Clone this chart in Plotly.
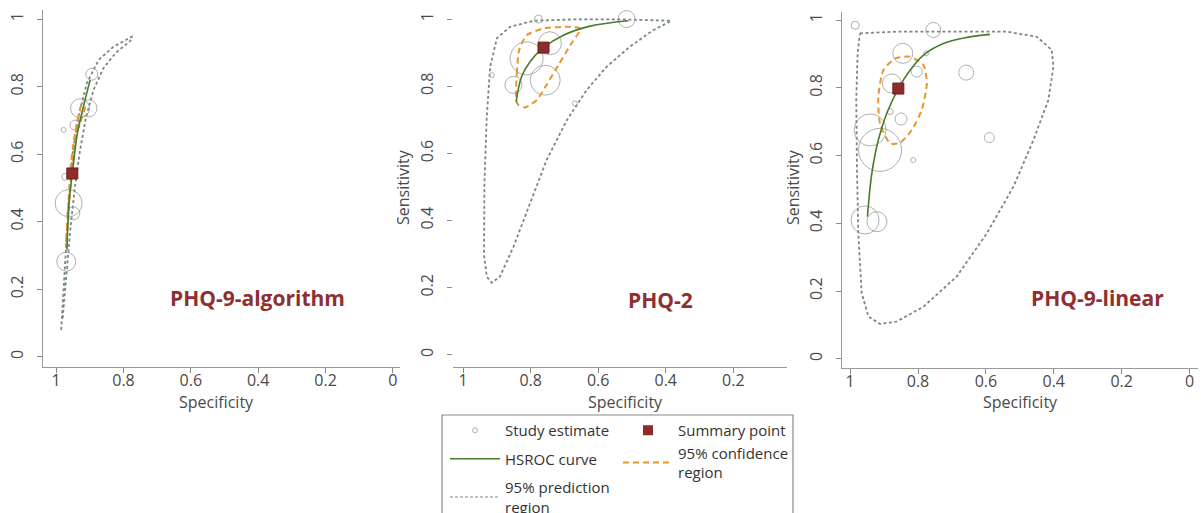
import plotly.graph_objects as go

# ---------------- DATA ----------------
panel_names = ["PHQ-9-algorithm", "PHQ-2", "PHQ-9-linear"]

# PHQ-9-algorithm
alg_study_spec = [0.894, 0.929, 0.904, 0.944, 0.978, 0.973, 0.963, 0.949, 0.970]
alg_study_sens = [0.837, 0.736, 0.736, 0.686, 0.672, 0.533, 0.455, 0.425, 0.282]
alg_study_size = [12, 19, 17, 10, 5, 7, 27, 13, 19]
alg_summary = (0.952, 0.543)
alg_hsroc_spec = [0.968, 0.961, 0.952, 0.937, 0.919, 0.899]
alg_hsroc_sens = [0.317, 0.464, 0.543, 0.662, 0.741, 0.820]
alg_conf_spec = [0.971, 0.963, 0.957, 0.944, 0.924, 0.914, 0.939, 0.954, 0.964, 0.971]
alg_conf_sens = [0.326, 0.465, 0.563, 0.662, 0.746, 0.741, 0.662, 0.545, 0.420, 0.326]
alg_pred_spec = [0.985, 0.976, 0.968, 0.960, 0.951, 0.934, 0.909, 0.874, 0.830, 0.775,
                 0.775, 0.825, 0.860, 0.889, 0.911, 0.929, 0.944, 0.957, 0.970, 0.981]
alg_pred_sens = [0.080, 0.248, 0.366, 0.484, 0.603, 0.711, 0.810, 0.879, 0.918, 0.948,
                 0.940, 0.898, 0.854, 0.790, 0.711, 0.612, 0.504, 0.386, 0.248, 0.110]

# PHQ-2
p2_study_spec = [0.777, 0.516, 0.915, 0.669, 0.812, 0.743, 0.851, 0.757]
p2_study_sens = [1.000, 1.000, 0.833, 0.749, 0.883, 0.928, 0.804, 0.818]
p2_study_size = [8, 17, 5, 5, 33, 23, 17, 30]
p2_summary = (0.762, 0.915)
p2_hsroc_spec = [0.843, 0.827, 0.802, 0.762, 0.703, 0.624, 0.511]
p2_hsroc_sens = [0.754, 0.828, 0.873, 0.915, 0.952, 0.979, 0.995]
p2_conf_spec = [0.843, 0.841, 0.834, 0.812, 0.762, 0.693, 0.652, 0.679, 0.718, 0.753,
                0.782, 0.817, 0.836, 0.843]
p2_conf_sens = [0.759, 0.838, 0.908, 0.952, 0.972, 0.977, 0.972, 0.928, 0.863, 0.804,
                0.759, 0.737, 0.744, 0.759]
p2_pred_spec = [0.388, 0.526, 0.674, 0.792, 0.861, 0.900, 0.920, 0.930, 0.937, 0.938,
                0.930, 0.915, 0.891, 0.851, 0.802, 0.753, 0.693, 0.634, 0.575, 0.506,
                0.437, 0.388]
p2_pred_sens = [0.995, 0.999, 0.999, 0.995, 0.977, 0.943, 0.858, 0.709, 0.511, 0.297,
                0.233, 0.215, 0.233, 0.322, 0.451, 0.580, 0.699, 0.789, 0.858, 0.918,
                0.967, 0.992]

# PHQ-9-linear
lin_study_spec = [0.985, 0.755, 0.845, 0.776, 0.804, 0.658, 0.877, 0.882, 0.850,
                  0.590, 0.941, 0.912, 0.814, 0.956, 0.921]
lin_study_sens = [0.985, 0.971, 0.902, 0.902, 0.848, 0.845, 0.813, 0.730, 0.708,
                  0.653, 0.676, 0.617, 0.587, 0.410, 0.405]
lin_study_size = [8, 15, 20, 5, 11, 15, 19, 6, 12, 10, 32, 43, 5, 28, 20]
lin_summary = (0.858, 0.798)
lin_hsroc_spec = [0.949, 0.936, 0.917, 0.892, 0.858, 0.823, 0.784, 0.725, 0.656, 0.588]
lin_hsroc_sens = [0.420, 0.548, 0.646, 0.725, 0.798, 0.853, 0.897, 0.931, 0.949, 0.958]
lin_conf_spec = [0.882, 0.912, 0.917, 0.902, 0.867, 0.823, 0.784, 0.774, 0.789, 0.818,
                 0.853, 0.882]
lin_conf_sens = [0.636, 0.695, 0.774, 0.853, 0.887, 0.892, 0.867, 0.813, 0.735, 0.676,
                 0.638, 0.636]
lin_pred_spec = [0.971, 0.863, 0.715, 0.539, 0.450, 0.406, 0.401, 0.416, 0.460, 0.519,
                 0.597, 0.686, 0.784, 0.863, 0.912, 0.946, 0.966, 0.976, 0.980, 0.982,
                 0.978, 0.971]
lin_pred_sens = [0.961, 0.966, 0.966, 0.966, 0.951, 0.912, 0.862, 0.764, 0.646, 0.508,
                 0.371, 0.243, 0.154, 0.110, 0.103, 0.125, 0.194, 0.371, 0.567, 0.764,
                 0.902, 0.961]

tick_vals = [0, 0.2, 0.4, 0.6, 0.8, 1]
tick_text = ["0", "0.2", "0.4", "0.6", "0.8", "1"]

# ---------------- STYLE ----------------
W, H = 1201, 513
CIRCLE = "#8f8f8f"
GREEN = "#4a7a2c"
ORANGE = "#e8962e"
PRED = "#7a8888"
RED = "#8e2b2b"
LABEL_RED = "#8f2f31"
FONT = "Open Sans"

fig = go.Figure()

panels = [
    (alg_study_spec, alg_study_sens, alg_study_size, alg_summary, alg_hsroc_spec, alg_hsroc_sens,
     alg_conf_spec, alg_conf_sens, alg_pred_spec, alg_pred_sens),
    (p2_study_spec, p2_study_sens, p2_study_size, p2_summary, p2_hsroc_spec, p2_hsroc_sens,
     p2_conf_spec, p2_conf_sens, p2_pred_spec, p2_pred_sens),
    (lin_study_spec, lin_study_sens, lin_study_size, lin_summary, lin_hsroc_spec, lin_hsroc_sens,
     lin_conf_spec, lin_conf_sens, lin_pred_spec, lin_pred_sens),
]

for i, (ss, se, sz, summ, hs, hse, cs, cse, ps, pse) in enumerate(panels):
    xa = "x" if i == 0 else f"x{i+1}"
    ya = "y" if i == 0 else f"y{i+1}"
    fig.add_trace(go.Scatter(x=ps, y=pse, mode="lines", xaxis=xa, yaxis=ya,
                             line=dict(color=PRED, width=1.8, dash="3px,2.5px"),
                             showlegend=False, hoverinfo="skip"))
    fig.add_trace(go.Scatter(x=ss, y=se, mode="markers", xaxis=xa, yaxis=ya,
                             marker=dict(size=sz, color="rgba(0,0,0,0)",
                                         line=dict(color=CIRCLE, width=1)),
                             showlegend=False))
    fig.add_trace(go.Scatter(x=cs, y=cse, mode="lines", xaxis=xa, yaxis=ya,
                             line=dict(color=ORANGE, width=2, dash="6px,4px", shape="spline",
                                       smoothing=0.6),
                             showlegend=False, hoverinfo="skip"))
    fig.add_trace(go.Scatter(x=hs, y=hse, mode="lines", xaxis=xa, yaxis=ya,
                             line=dict(color=GREEN, width=1.6, shape="spline"),
                             showlegend=False))
    fig.add_trace(go.Scatter(x=[summ[0]], y=[summ[1]], mode="markers", xaxis=xa, yaxis=ya,
                             marker=dict(symbol="square", size=11, color=RED,
                                         line=dict(color="#6a1e1e", width=1)),
                             showlegend=False))

# legend entries (column 1 and column 2)
fig.add_trace(go.Scatter(x=[None], y=[None], mode="markers", name="Study estimate",
                         marker=dict(size=5, color="rgba(0,0,0,0)", line=dict(color="#b0b0b0", width=1)),
                         legend="legend", legendgroup="a"))
fig.add_trace(go.Scatter(x=[None], y=[None], mode="lines", name="HSROC curve",
                         line=dict(color=GREEN, width=1.6), legend="legend", legendgroup="b"))
fig.add_trace(go.Scatter(x=[None], y=[None], mode="lines", name="95% prediction<br>region",
                         line=dict(color=PRED, width=1.2, dash="3px,2px"),
                         legend="legend", legendgroup="c"))
fig.add_trace(go.Scatter(x=[None], y=[None], mode="markers", name="Summary point",
                         marker=dict(symbol="square", size=10, color=RED),
                         legend="legend2", legendgroup="d"))
fig.add_trace(go.Scatter(x=[None], y=[None], mode="lines", name="95% confidence<br>region",
                         line=dict(color=ORANGE, width=2, dash="6px,4px"),
                         legend="legend2", legendgroup="e"))

def xpx(a, b):
    return [a / W, b / W]

def ypx(top, bottom):
    return [1 - bottom / H, 1 - top / H]

axis_font = dict(family=FONT, size=16, color="#4a4a4a")
title_font = dict(family=FONT, size=16, color="#4a4a4a")
common_x = dict(tickvals=tick_vals, ticktext=tick_text, ticks="outside", ticklen=5,
                tickcolor="#888888", showline=True, linecolor="#9a9a9a", linewidth=1.2,
                showgrid=False, zeroline=False, tickfont=axis_font, ticklabelstandoff=-6,
                ticklabeloverflow="allow")
common_y = dict(tickvals=tick_vals, ticktext=tick_text, ticks="outside", ticklen=5,
                tickcolor="#888888", showline=True, linecolor="#9a9a9a", linewidth=1.2,
                showgrid=False, zeroline=False, tickfont=axis_font, tickangle=-90,
                ticklabelstandoff=8)

fig.update_layout(
    width=W, height=H, margin=dict(l=0, r=0, t=0, b=0, autoexpand=False),
    paper_bgcolor="white", plot_bgcolor="white",
    font=dict(family=FONT, color="#444444"),
    xaxis=dict(domain=xpx(43, 400), range=[1.039, -0.021], anchor="y", **common_x),
    yaxis=dict(domain=ypx(10, 367), range=[-0.030, 1.027], anchor="x", **common_y),
    xaxis2=dict(domain=xpx(453, 787), range=[1.030, 0.041], anchor="y2", **common_x),
    yaxis2=dict(domain=ypx(10, 367), range=[-0.036, 1.027], anchor="x2",
                **{**common_y, "showline": False}),
    xaxis3=dict(domain=xpx(842, 1198), range=[1.024, -0.025], anchor="y3", **common_x),
    yaxis3=dict(domain=ypx(12, 368), range=[-0.027, 1.024], anchor="x3", **common_y),
    legend=dict(x=445 / W, y=1 - 414 / H, xanchor="left", yanchor="top",
                bgcolor="rgba(0,0,0,0)", borderwidth=0, itemwidth=50,
                traceorder="grouped", tracegroupgap=6,
                font=dict(family=FONT, size=15, color="#333333")),
    legend2=dict(x=618 / W, y=1 - 414 / H, xanchor="left", yanchor="top",
                 bgcolor="rgba(0,0,0,0)", borderwidth=0, itemwidth=50,
                 traceorder="grouped", tracegroupgap=0,
                 font=dict(family=FONT, size=15, color="#333333")),
    shapes=[dict(type="rect", xref="paper", yref="paper",
                 x0=442 / W, x1=793 / W, y0=-0.02, y1=1 - 415 / H,
                 line=dict(color="#8a8a8a", width=1.2), fillcolor="rgba(0,0,0,0)")],
)

# axis titles
for cx in (216, 625, 1020):
    fig.add_annotation(x=cx / W, y=1 - 402 / H, xref="paper", yref="paper", text="Specificity",
                       showarrow=False, font=title_font, xanchor="center", yanchor="middle")
for cx in (403, 793):
    fig.add_annotation(x=cx / W, y=1 - 187 / H, xref="paper", yref="paper", text="Sensitivity",
                       showarrow=False, font=title_font, textangle=-90,
                       xanchor="center", yanchor="middle")

label_pos = [("x", "y", 0.4036, 0.1746), ("x2", "y2", 0.4142, 0.1637), ("x3", "y3", 0.2725, 0.18)]
for name, (xr, yr, lx, ly) in zip(panel_names, label_pos):
    fig.add_annotation(x=lx, y=ly, xref=xr, yref=yr, text=f"<b>{name}</b>", showarrow=False,
                       font=dict(family=FONT, size=21, color=LABEL_RED))

fig.write_html("out.html", config={"displayModeBar": False},
               post_script="document.body.style.margin='0';document.body.style.overflow='hidden';")
